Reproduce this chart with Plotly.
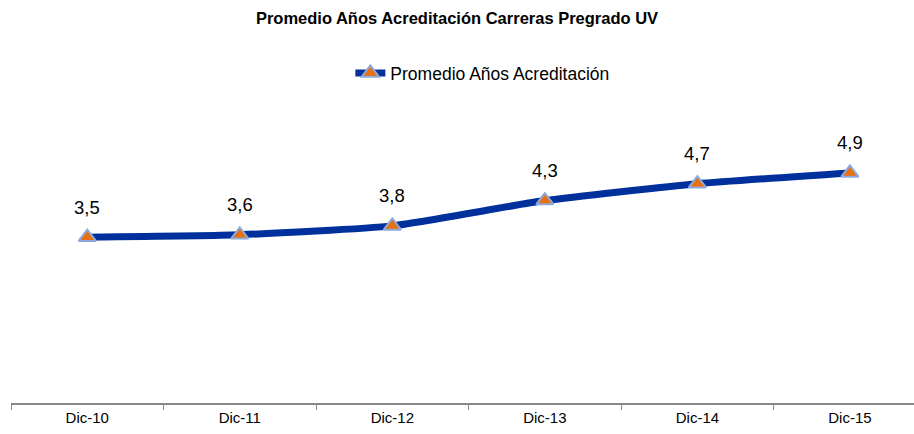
import plotly.graph_objects as go

categories = ["Dic-10", "Dic-11", "Dic-12", "Dic-13", "Dic-14", "Dic-15"]
values = [3.54, 3.59, 3.78, 4.32, 4.68, 4.91]
series_name = "Promedio Años Acreditación"
title = "Promedio Años Acreditación Carreras Pregrado UV"

FONT = "Liberation Sans, Arial, sans-serif"

fig = go.Figure()
fig.add_trace(go.Scatter(
    x=categories, y=values, name=series_name,
    mode="lines+markers",
    line=dict(color="#00309C", width=7, shape="spline", smoothing=0.5),
    marker=dict(symbol="triangle-up", size=15, color="#E8700F",
                line=dict(color="#8EA9DB", width=2)),
))

for c, v in zip(categories, values):
    fig.add_annotation(x=c, y=v, text=f"{v:.1f}".replace(".", ","),
                       showarrow=False, yshift=30,
                       font=dict(size=18.5, color="#000000", family=FONT))

fig.update_layout(
    width=914, height=434,
    margin=dict(l=11, r=0, t=75, b=31),
    paper_bgcolor="white", plot_bgcolor="white",
    font=dict(family=FONT, color="#000000"),
    title=dict(text="<b>" + title + "</b>", x=0.5, xanchor="center",
               y=1 - 18 / 434, yanchor="middle",
               font=dict(size=16.5, family=FONT)),
    showlegend=True,
    legend=dict(orientation="h", x=0.522, xanchor="center", y=1.006,
                yanchor="middle", font=dict(size=17.5, family=FONT),
                bgcolor="rgba(0,0,0,0)"),
)
fig.update_xaxes(
    type="category", range=[-0.5, 5.42], tickson="boundaries",
    ticks="outside", ticklen=5, tickcolor="#888888", tickwidth=1.3,
    showline=True, linecolor="#888888", linewidth=1.5,
    showgrid=False, zeroline=False, tickfont=dict(size=15, family=FONT),
)
fig.update_yaxes(range=[0, 7], visible=False, showgrid=False, zeroline=False)

fig.write_html("out.html", config={"displayModeBar": False},
               post_script="document.body.style.margin='0';")
